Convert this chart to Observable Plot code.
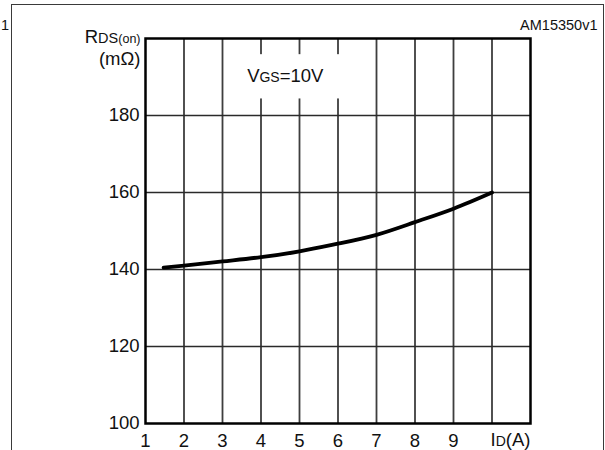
<!DOCTYPE html>
<html>
<head>
<meta charset="utf-8">
<script src="https://cdn.jsdelivr.net/npm/d3@7"></script>
<script src="https://cdn.jsdelivr.net/npm/@observablehq/plot@0.6"></script>
<style>
  html, body { margin: 0; padding: 0; background: #fff; }
  #wrap { position: relative; width: 605px; height: 450px; overflow: hidden; }
  #box { position: absolute; left: 11px; top: 4px; width: 591px; height: 470px;
         border: 1.3px solid #3a3a3a; border-bottom: none; }
  #chart { position: absolute; left: 0; top: 0; }
  svg text { font-family: "Liberation Sans", Arial, sans-serif; }
</style>
</head>
<body>
<div id="wrap"><div id="box"></div><div id="chart"></div></div>
<script>
// Drain current (A) and on-resistance (mΩ)
const idValues = [1.47, 2, 3, 4, 5, 6, 7, 8, 9, 10];
const rdsValues = [140.5, 141.0, 142.1, 143.2, 144.7, 146.7, 149.0, 152.3, 155.8, 160.0];
const xGrid = [2, 3, 4, 5, 6, 7, 8, 9, 10];
const yGrid = [120, 140, 160, 180];
const xTickLabels = [1, 2, 3, 4, 5, 6, 7, 8, 9];
const yTickLabels = [100, 120, 140, 160, 180];
const labelBox = [{x1: 3.3, x2: 6.6, y1: 184.3, y2: 195.8}];
const vgsLabel = [{x: 3.64, y: 188.6, text: "VGS=10V"}];
const chartCode = "AM15350v1";

const curve = idValues.map((x, i) => ({x, y: rdsValues[i]}));
const ink = "#111";
const gridColor = "#3e3e3e";

const plot = Plot.plot({
  width: 605,
  height: 450,
  marginLeft: 145,
  marginRight: 75,
  marginTop: 38,
  marginBottom: 27,
  style: {background: "transparent", fontFamily: "Liberation Sans, Arial, sans-serif", color: ink},
  x: {domain: [1, 11]},
  y: {domain: [100, 200]},
  marks: [
    Plot.ruleX(xGrid, {x: d => d, y1: 100, y2: 200, stroke: gridColor, strokeWidth: 1.8}),
    Plot.ruleY(yGrid, {y: d => d, stroke: "#2a2a2a", strokeWidth: 1.7}),
    Plot.rect(labelBox, {x1: "x1", x2: "x2", y1: "y1", y2: "y2", fill: "white"}),
    Plot.line(curve, {x: "x", y: "y", stroke: "#000", strokeWidth: 3.8, curve: "natural"}),
    Plot.frame({stroke: "#000", strokeWidth: 2.5}),
    Plot.axisY(yTickLabels, {tickSize: 0, tickPadding: 6, fontSize: 18.5, fill: ink, label: null}),
    Plot.axisX(xTickLabels, {tickSize: 0, tickPadding: 10, fontSize: 18.5, fill: ink, label: null}),
    Plot.text(vgsLabel, {x: "x", y: "y", text: "text", textAnchor: "start", lineAnchor: "bottom",
      fontSize: 18.5, fill: ink}),
    Plot.text(["ID(A)"], {x: 10, y: 100, text: d => d, textAnchor: "start", lineAnchor: "bottom",
      dx: -1.5, dy: 22.5, fontSize: 18.5, fill: ink}),
    Plot.text(["RDS(on)"], {frameAnchor: "top-left", text: d => d, textAnchor: "end", lineAnchor: "bottom",
      dx: -5, dy: 4.5, fontSize: 18.5, fill: ink}),
    Plot.text(["(mΩ)"], {frameAnchor: "top-left", text: d => d, textAnchor: "end", lineAnchor: "bottom",
      dx: -5, dy: 26, fontSize: 18.5, fill: ink}),
    Plot.text([chartCode], {frameAnchor: "top-right", text: d => d, textAnchor: "end", lineAnchor: "bottom",
      dx: 67, dy: -8.5, fontSize: 14.5, fill: ink}),
    Plot.text(["1"], {frameAnchor: "top-left", text: d => d, textAnchor: "start", lineAnchor: "bottom",
      dx: -144.5, dy: -8.5, fontSize: 14.5, fill: ink})
  ]
});

// Small-cap style subscripts for the parameter labels
function styleLabel(content, parts) {
  d3.select(plot).selectAll("text").filter(function() { return this.textContent === content; })
    .each(function() {
      const t = d3.select(this);
      t.text(null);
      for (const [s, size] of parts) {
        const sp = t.append("tspan").text(s);
        if (size) sp.attr("font-size", size);
      }
    });
}
styleLabel("VGS=10V", [["V"], ["GS", 14], ["=10V"]]);
styleLabel("ID(A)", [["I"], ["D", 14], ["(A)"]]);
styleLabel("RDS(on)", [["R"], ["DS", 14.5], ["(on)", 12.5]]);

document.getElementById("chart").appendChild(plot);
</script>
</body>
</html>
